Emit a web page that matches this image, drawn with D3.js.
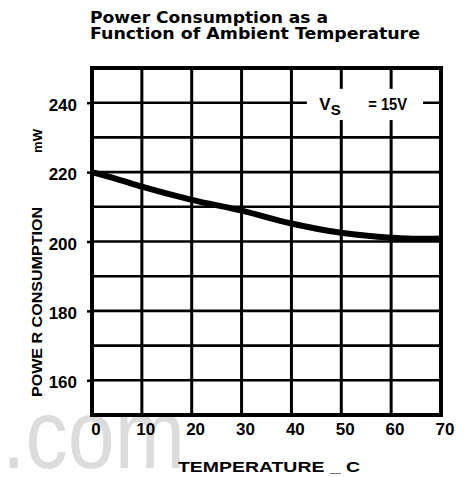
<!DOCTYPE html>
<html>
<head>
<meta charset="utf-8">
<script src="https://cdn.jsdelivr.net/npm/d3@7"></script>
<style>
  html, body { margin: 0; padding: 0; background: #fff; }
  text { font-family: "Liberation Sans", Arial, sans-serif; font-weight: bold; fill: #000; }
</style>
</head>
<body>
<figure id="chart" style="margin:0"></figure>
<script>
// values
const temperature = [0, 5, 10, 20, 30, 40, 50, 60, 65, 70];
const power = [220, 218, 215.8, 212, 208.9, 205.2, 202.5, 201.1, 200.8, 200.9];
const xTicks = [0, 10, 20, 30, 40, 50, 60, 70];
const yTicks = [160, 180, 200, 220, 240];
const yGrid = [160, 170, 180, 190, 200, 210, 220, 230, 240];

const width = 474, height = 477;
const margin = { top: 68, right: 33, bottom: 62, left: 92 };
const w = width - margin.left - margin.right;
const h = height - margin.top - margin.bottom;

const svg = d3.select("figure#chart")
  .append("svg")
  .attr("width", width)
  .attr("height", height);

// watermark behind everything
svg.append("text")
  .attr("x", 2)
  .attr("y", 468)
  .attr("textLength", 183)
  .attr("lengthAdjust", "spacingAndGlyphs")
  .style("font-size", "98px")
  .style("font-weight", "normal")
  .style("fill", "#dcdcdc")
  .text(".com");

// title
svg.append("text").attr("x", 90).attr("y", 23)
  .attr("textLength", 238).attr("lengthAdjust", "spacingAndGlyphs")
  .style("font-family", "'DejaVu Sans', sans-serif")
  .style("font-size", "16px").style("font-weight", "bold")
  .text("Power Consumption as a");
svg.append("text").attr("x", 90).attr("y", 39)
  .attr("textLength", 330).attr("lengthAdjust", "spacingAndGlyphs")
  .style("font-family", "'DejaVu Sans', sans-serif")
  .style("font-size", "16px").style("font-weight", "bold")
  .text("Function of Ambient Temperature");

const g = svg.append("g")
  .attr("transform", "translate(" + margin.left + "," + margin.top + ")");

const x = d3.scaleLinear().domain([0, 70]).range([0, w]);
const y = d3.scaleLinear().domain([150, 250]).range([h, 0]);

// grid
g.selectAll(".vgrid")
  .data(xTicks.slice(1, -1))
  .enter().append("line")
  .attr("x1", d => x(d)).attr("x2", d => x(d))
  .attr("y1", 0).attr("y2", h)
  .attr("stroke", "#000").attr("stroke-width", 3);

g.selectAll(".hgrid")
  .data(yGrid)
  .enter().append("line")
  .attr("x1", 0).attr("x2", w)
  .attr("y1", d => y(d)).attr("y2", d => y(d))
  .attr("stroke", "#000").attr("stroke-width", 2.6);

// gap in the grid for the supply label
g.append("rect")
  .attr("x", x(43.1)).attr("width", x(66.4) - x(43.1))
  .attr("y", y(244)).attr("height", y(235) - y(244))
  .attr("fill", "#fff");

g.append("text")
  .attr("x", x(45.6)).attr("y", y(237.8))
  .style("font-size", "17px")
  .text("V")
  .append("tspan").attr("dy", 5).style("font-size", "15px").text("S");

g.append("text")
  .attr("x", x(55.4)).attr("y", y(237.8))
  .attr("textLength", x(63.2) - x(55.4)).attr("lengthAdjust", "spacingAndGlyphs")
  .style("font-size", "17px")
  .text("= 15V");

// frame
g.append("rect")
  .attr("x", 0).attr("y", 0).attr("width", w).attr("height", h)
  .attr("fill", "none").attr("stroke", "#000").attr("stroke-width", 4);

// y axis
const yAxis = g.append("g")
  .call(d3.axisLeft(y).tickValues(yTicks).tickSize(5).tickPadding(10).tickFormat(d3.format("d")));
yAxis.select(".domain").remove();
yAxis.selectAll("line").attr("stroke", "#000").attr("stroke-width", 2.5);
yAxis.selectAll("text")
  .attr("dy", "0.45em")
  .style("font-size", "17px")
  .style("font-family", "'Liberation Sans', Arial, sans-serif")
  .style("font-weight", "bold");

// x axis
const xAxis = g.append("g")
  .attr("transform", "translate(0," + h + ")")
  .call(d3.axisBottom(x).tickValues(xTicks).tickSize(0).tickPadding(8).tickFormat(d3.format("d")));
xAxis.select(".domain").remove();
xAxis.selectAll("text")
  .attr("dx", "0.2em")
  .style("font-size", "17px")
  .style("font-family", "'Liberation Sans', Arial, sans-serif")
  .style("font-weight", "bold");

// curve
const line = d3.line()
  .x((d, i) => x(temperature[i]))
  .y(d => y(d))
  .curve(d3.curveMonotoneX);

g.append("path")
  .datum(power)
  .attr("d", line)
  .attr("fill", "none")
  .attr("stroke", "#000")
  .attr("stroke-width", 6)
  .attr("stroke-linecap", "butt");

// axis titles
svg.append("text")
  .attr("x", 178).attr("y", 472)
  .attr("textLength", 182).attr("lengthAdjust", "spacingAndGlyphs")
  .style("font-size", "15px")
  .text("TEMPERATURE  _ C");

svg.append("text")
  .attr("transform", "translate(42,397) rotate(-90)")
  .attr("textLength", 190).attr("lengthAdjust", "spacingAndGlyphs")
  .style("font-size", "14px")
  .text("POWE R CONSUMPTION");

svg.append("text")
  .attr("transform", "translate(42,153) rotate(-90)")
  .attr("textLength", 24).attr("lengthAdjust", "spacingAndGlyphs")
  .style("font-size", "13px")
  .text("mW");
</script>
</body>
</html>
